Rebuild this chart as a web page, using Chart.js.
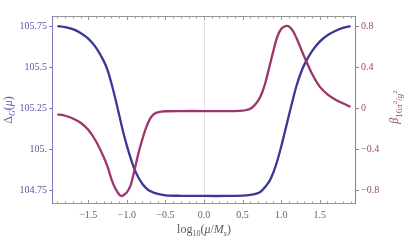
<!DOCTYPE html>
<html>
<head>
<meta charset="utf-8">
<script src="https://cdn.jsdelivr.net/npm/chart.js@4.4.0/dist/chart.umd.min.js"></script>
<style>
html,body{margin:0;padding:0;background:#fff;}
canvas{display:block;}
</style>
</head>
<body>
<canvas id="c" width="411" height="243"></canvas>
<script>
// Δ_G(μ) curve (left axis)
const deltaX = [-1.9,-1.8,-1.7,-1.6,-1.5,-1.4,-1.3,-1.25,-1.2,-1.15,-1.1,-1.05,-1.0,-0.95,-0.9,-0.85,-0.8,-0.75,-0.7,-0.6,-0.5,-0.3,0,0.3,0.5,0.6,0.7,0.75,0.8,0.85,0.9,0.95,1.0,1.05,1.1,1.15,1.2,1.25,1.3,1.4,1.5,1.6,1.7,1.8,1.9];
const deltaY = [105.75,105.744,105.731,105.708,105.673,105.619,105.538,105.482,105.402,105.31,105.21,105.11,105.022,104.945,104.878,104.828,104.79,104.764,104.746,104.728,104.72,104.717,104.716,104.716,104.718,104.722,104.733,104.748,104.775,104.808,104.86,104.93,105.015,105.11,105.205,105.3,105.388,105.458,105.515,105.597,105.655,105.694,105.72,105.739,105.75];
// β curve (right axis)
const betaX = [-1.9,-1.8,-1.7,-1.6,-1.5,-1.4,-1.3,-1.25,-1.2,-1.15,-1.1,-1.07,-1.05,-1.0,-0.95,-0.9,-0.85,-0.8,-0.75,-0.7,-0.65,-0.6,-0.5,-0.3,0,0.4,0.5,0.55,0.6,0.65,0.7,0.75,0.8,0.85,0.9,0.95,1.0,1.05,1.08,1.1,1.15,1.2,1.25,1.3,1.4,1.5,1.6,1.7,1.8,1.9];
const betaY = [-0.06,-0.074,-0.1,-0.142,-0.21,-0.322,-0.475,-0.57,-0.69,-0.78,-0.84,-0.855,-0.85,-0.82,-0.75,-0.6,-0.44,-0.305,-0.19,-0.105,-0.058,-0.04,-0.03,-0.028,-0.028,-0.028,-0.025,-0.018,-0.005,0.025,0.07,0.145,0.26,0.41,0.56,0.695,0.77,0.797,0.8,0.795,0.755,0.68,0.59,0.5,0.335,0.21,0.135,0.085,0.047,0.013];
// tick labels
const xTicks = [-1.5,-1.0,-0.5,0.0,0.5,1.0,1.5];
const xTickLabels = ["\u22121.5","\u22121.0","\u22120.5","0.0","0.5","1.0","1.5"];
const leftTicks = [104.75,105,105.25,105.5,105.75];
const leftTickLabels = ["104.75","105.","105.25","105.5","105.75"];
const rightTicks = [-0.8,-0.4,0,0.4,0.8];
const rightTickLabels = ["\u22120.8","\u22120.4","0","0.4","0.8"];

const BLUE = 'rgb(58,56,150)';
const PURPLE = 'rgb(158,52,108)';
const BLUE_AX = 'rgb(120,118,185)';
const PURPLE_AX = 'rgb(170,110,145)';
const SERIF = "'Liberation Serif', 'DejaVu Serif', serif";

function pts(xs, ys){ return xs.map((x,i)=>({x:x, y:ys[i]})); }

const framePlugin = {
  id: 'frame',
  beforeDatasetsDraw(chart){
    const ctx = chart.ctx, a = chart.chartArea, xs = chart.scales.x;
    ctx.save();
    ctx.strokeStyle = 'rgb(225,225,225)';
    ctx.lineWidth = 1;
    const p0 = Math.round(xs.getPixelForValue(0)) + 0.5;
    ctx.beginPath(); ctx.moveTo(p0, a.top); ctx.lineTo(p0, a.bottom); ctx.stroke();
    ctx.restore();
  },
  afterDraw(chart){
    const ctx = chart.ctx, a = chart.chartArea;
    const xs = chart.scales.x, yl = chart.scales.y, yr = chart.scales.y1;
    ctx.save();
    ctx.lineWidth = 1;
    ctx.strokeStyle = 'rgb(150,150,150)';
    ctx.beginPath();
    ctx.moveTo(a.left, a.top+0.5); ctx.lineTo(a.right, a.top+0.5);
    ctx.moveTo(a.left, a.bottom-0.5); ctx.lineTo(a.right, a.bottom-0.5);
    for (let i=-19;i<=19;i++){
      const px = Math.round(xs.getPixelForValue(i/10))+0.5;
      const len = (i%5===0) ? 4 : 2.5;
      ctx.moveTo(px, a.bottom); ctx.lineTo(px, a.bottom-len);
      ctx.moveTo(px, a.top); ctx.lineTo(px, a.top+len);
    }
    ctx.stroke();
    ctx.strokeStyle = BLUE_AX;
    ctx.beginPath();
    ctx.moveTo(a.left+0.5, a.top); ctx.lineTo(a.left+0.5, a.bottom);
    leftTicks.forEach(v=>{ const py=Math.round(yl.getPixelForValue(v))+0.5; ctx.moveTo(a.left+0.5,py); ctx.lineTo(a.left-3,py); });
    ctx.stroke();
    ctx.strokeStyle = PURPLE_AX;
    ctx.beginPath();
    ctx.moveTo(a.right-0.5, a.top); ctx.lineTo(a.right-0.5, a.bottom);
    rightTicks.forEach(v=>{ const py=Math.round(yr.getPixelForValue(v))+0.5; ctx.moveTo(a.right-0.5,py); ctx.lineTo(a.right+3,py); });
    ctx.stroke();

    ctx.fillStyle = 'rgb(90,90,90)';
    ctx.textBaseline = 'alphabetic';
    drawParts(ctx, [
      {t:'log', f:'12px '+SERIF, dy:0},
      {t:'10', f:'8px '+SERIF, dy:3},
      {t:'(', f:'12px '+SERIF, dy:0},
      {t:'\u03bc', f:'italic 12px '+SERIF, dy:0},
      {t:'/', f:'12px '+SERIF, dy:0},
      {t:'M', f:'italic 12px '+SERIF, dy:0},
      {t:'s', f:'italic 8px '+SERIF, dy:3},
      {t:')', f:'12px '+SERIF, dy:0}
    ], (a.left+a.right)/2, 233);

    ctx.save();
    ctx.translate(12, 110);
    ctx.rotate(-Math.PI/2);
    ctx.fillStyle = 'rgb(90,88,170)';
    drawParts(ctx, [
      {t:'\u0394', f:'12px '+SERIF, dy:0},
      {t:'G', f:'italic 8px '+SERIF, dy:3},
      {t:'(', f:'12px '+SERIF, dy:0},
      {t:'\u03bc', f:'italic 12px '+SERIF, dy:0},
      {t:')', f:'12px '+SERIF, dy:0}
    ], 0, 0);
    ctx.restore();

    ctx.save();
    ctx.translate(398, 107);
    ctx.rotate(-Math.PI/2);
    ctx.fillStyle = 'rgb(150,70,120)';
    drawParts(ctx, [
      {t:'\u03b2', f:'italic 12px '+SERIF, dy:0},
      {t:'16', f:'9px '+SERIF, dy:4},
      {t:'\u03c0', f:'italic 9px '+SERIF, dy:4},
      {t:'2', f:'7px '+SERIF, dy:-1},
      {t:'/', f:'9px '+SERIF, dy:4},
      {t:'g', f:'italic 9px '+SERIF, dy:4},
      {t:'2', f:'7px '+SERIF, dy:-1}
    ], 0, 0);
    ctx.restore();
    ctx.restore();
  }
};

function drawParts(ctx, parts, cx, by){
  let w = 0;
  parts.forEach(p=>{ ctx.font = p.f; p.w = ctx.measureText(p.t).width; w += p.w; });
  let x = cx - w/2;
  ctx.textAlign = 'left';
  parts.forEach(p=>{ ctx.font = p.f; ctx.fillText(p.t, x, by + p.dy); x += p.w; });
}

new Chart(document.getElementById('c'), {
  type: 'line',
  data: {
    datasets: [
      { label:'beta', data: pts(betaX, betaY), yAxisID:'y1', borderColor: PURPLE, borderWidth: 2.3, pointRadius: 0, tension: 0.3, fill:false },
      { label:'delta', data: pts(deltaX, deltaY), yAxisID:'y', borderColor: BLUE, borderWidth: 2.3, pointRadius: 0, tension: 0.3, fill:false }
    ]
  },
  options: {
    responsive: false,
    animation: false,
    devicePixelRatio: 1,
    layout: { padding: { top: 16, left: 0, right: 0, bottom: 0 } },
    plugins: { legend: { display: false }, tooltip: { enabled: false } },
    scales: {
      x: {
        type: 'linear', min: -1.97, max: 1.97,
        grid: { display: false, drawTicks: false },
        border: { display: false },
        afterBuildTicks(s){ s.ticks = xTicks.map(v=>({value:v})); },
        ticks: { padding: 5, color: 'rgb(100,100,100)', font: { family: SERIF, size: 10 }, maxRotation: 0, autoSkip: false,
          callback: (v, i) => xTickLabels[i] },
        afterFit(s){ s.height = 39; }
      },
      y: {
        type: 'linear', position: 'left', min: 104.667, max: 105.811,
        grid: { display: false, drawTicks: false },
        border: { display: false },
        afterBuildTicks(s){ s.ticks = leftTicks.map(v=>({value:v})); },
        ticks: { padding: 5, color: 'rgb(90,88,165)', font: { family: SERIF, size: 10 }, autoSkip: false,
          callback: (v, i) => leftTickLabels[i] },
        afterFit(s){ s.width = 52; }
      },
      y1: {
        type: 'linear', position: 'right', min: -0.933, max: 0.897,
        grid: { display: false, drawTicks: false },
        border: { display: false },
        afterBuildTicks(s){ s.ticks = rightTicks.map(v=>({value:v})); },
        ticks: { padding: 5, color: 'rgb(150,70,120)', font: { family: SERIF, size: 10 }, autoSkip: false,
          callback: (v, i) => rightTickLabels[i] },
        afterFit(s){ s.width = 55; }
      }
    }
  },
  plugins: [framePlugin]
});
</script>
</body>
</html>
